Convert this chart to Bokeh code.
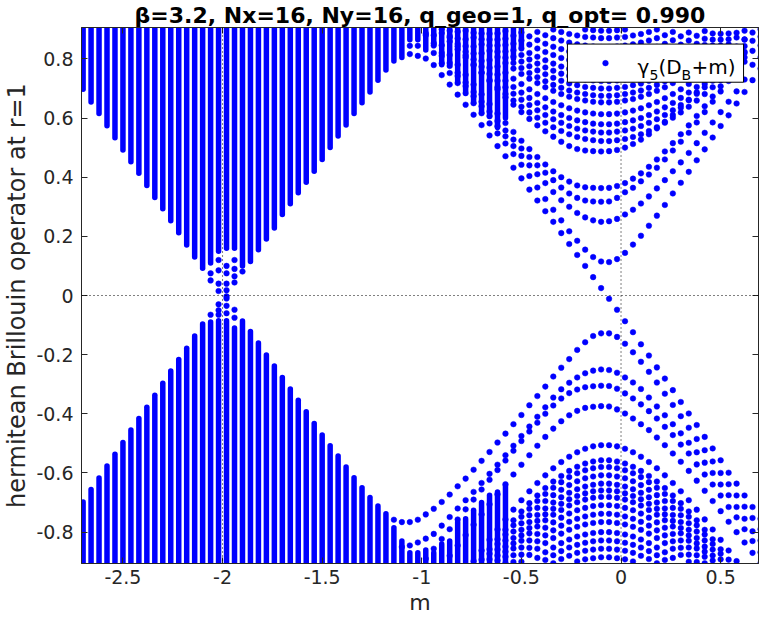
from bokeh.plotting import figure
from bokeh.models import (ColumnDataSource, Range1d, FixedTicker, LinearAxis,
                          Span, Label, BoxAnnotation)
from bokeh.embed import file_html
from bokeh.resources import INLINE

# ---------------- data ----------------
M = [-2.70, -2.66, -2.62, -2.58, -2.54, -2.50, -2.46, -2.42, -2.38, -2.34,
     -2.30, -2.26, -2.22, -2.18, -2.14, -2.10, -2.06, -2.02, -1.98, -1.94,
     -1.90, -1.86, -1.82, -1.78, -1.74, -1.70, -1.66, -1.62, -1.58, -1.54,
     -1.50, -1.46, -1.42, -1.38, -1.34, -1.30, -1.26, -1.22, -1.18, -1.14,
     -1.10, -1.06, -1.02, -0.98, -0.94, -0.90, -0.86, -0.82, -0.78, -0.74,
     -0.70, -0.66, -0.62, -0.58, -0.54, -0.50, -0.46, -0.42, -0.38, -0.34,
     -0.30, -0.26, -0.22, -0.18, -0.14, -0.10, -0.06, -0.02, 0.02, 0.06,
     0.10, 0.14, 0.18, 0.22, 0.26, 0.30, 0.34, 0.38, 0.42, 0.46,
     0.50, 0.54, 0.58, 0.62, 0.66, 0.70]

# lowest eigenvalue of the dense upper band, per m column (band runs up past the top)
UP_SOLID_LO = [.697, .654, .615, .574, .533, .492, .452, .413, .372, .331,
               .293, .253, .212, .171, .130, .092, .11, .15, .16, .16,
               .10, .115, .155, .191, .228, .274, .31, .347, .383, .42,
               .46, .50, .539, .576, .615, .652, .688, .728, .762, .793,
               .805, .865, .865, .83, .85, .78, .782, .72, .692, .652,
               .618, .607, .568, .60, .80, .84]

# highest eigenvalue of the dense lower band, per m column (band runs down past the bottom)
LOW_SOLID_HI = [-.698, -.656, -.617, -.576, -.537, -.497, -.455, -.416, -.378, -.337,
                -.297, -.255, -.216, -.178, -.137, -.096, -.09, -.085, -.085, -.11,
                -.086, -.122, -.161, -.201, -.238, -.277, -.316, -.354, -.393, -.433,
                -.472, -.508, -.543, -.580, -.616, -.650, -.683, -.712, -.738, -.785,
                -.83, -.87, -.87, -.86, -.87, -.84, -.83, -.766, -.755, -.726,
                -.70, -.675, -.664, -.642]

# isolated eigenvalues near the gaps (column index, value)
EXTRA_K = [16, 16, 17, 17, 17, 17, 18, 18, 18, 18, 18, 19, 19, 19, 19, 20,
           41, 41, 42, 42, 44,
           16, 17, 17, 17, 18, 18, 18, 19, 19]
EXTRA_Y = [.075, .051, .12, .085, .04, .015, .10, .075, .04, .018, -.003, .12, .09, .065, .044, .081,
           .844, .816, .844, .81, .82,
           -.065, -.03, -.05, -.065, -.01, -.035, -.06, -.048, -.075]

# eigenvalue branches: first column index, values column by column
U1_K0 = 43
U1 = [.801, .779, .745, .713, .679, .645, .611, .576, .541, .505, .471, .432, .396, .358, .321,
      .285, .249, .211, .174, .137, .100, .062, .025, -.011, -.048, -.087, -.124, -.165, -.203,
      -.243, -.281, -.320, -.360, -.399, -.438, -.478, -.517, -.557, -.599, -.636, -.676, -.715, -.755]
U2_K0 = 45
U2 = [.785, .752, .718, .684, .65, .616, .582, .548, .514, .478, .442, .404, .365, .326, .29,
      .254, .217, .185, .155, .13, .115, .113, .123, .144, .172, .202, .236, .270, .306, .345,
      .381, .418, .457, .494, .534, .573, .609, .649, .688, .728, .767]
U3_K0 = 43
U3 = [.88, .845, .81, .776, .742, .708, .674, .64, .606, .572, .538, .505, .472, .44, .41, .38,
      .35, .322, .30, .279, .264, .254, .249, .251, .259, .274, .29, .311, .335, .362, .39, .42,
      .45, .482, .515, .55, .585, .62, .655, .69, .73, .78, .805]
U4_K0 = 43
U4 = [.886, .853, .82, .786, .753, .72, .688, .655, .622, .59, .558, .527, .497, .468, .44, .415,
      .39, .365, .345, .33, .321, .318, .317, .318, .33, .349, .364, .386, .409, .432, .46, .49,
      .52, .55, .585, .62, .655, .69, .725, .76, .79, .827, .845]
U5_K0 = 44
U5 = [.88, .846, .813, .78, .746, .713, .68, .647, .615, .583, .553, .523, .495, .468, .443, .42,
      .40, .385, .372, .366, .364, .363, .364, .37, .38, .395, .413, .435, .46, .487, .515, .545,
      .575, .607, .64, .673, .707, .742, .78, .82, .861, .875]
U6_K0 = 45
U6 = [.9, .872, .842, .812, .782, .753, .725, .697, .67, .645, .62, .597, .575, .555, .537, .52,
      .505, .495, .49, .488, .487, .488, .492, .50, .512, .527, .545, .565, .587, .61, .635, .66,
      .687, .715, .745, .775, .805, .835, .865, .889, .9]
U7_K0 = 45
U7 = [.887, .859, .832, .805, .778, .753, .728, .704, .681, .659, .638, .619, .601, .584, .569,
      .556, .545, .536, .529, .525, .522, .522, .525, .529, .536, .545, .556, .569, .584, .601,
      .619, .638, .659, .681, .704, .728, .753, .778, .805]
U8_K0 = 46
U8 = [.877, .850, .824, .798, .773, .749, .726, .704, .682, .662, .644, .626, .610, .596, .584,
      .573, .564, .558, .554, .551, .551, .554, .558, .564, .573, .584, .596, .610, .626, .644,
      .662, .682, .704, .726, .749, .773, .798, .824]
U9_K0 = 46
U9 = [.895, .869, .843, .818, .793, .770, .747, .726, .705, .686, .668, .651, .636, .622, .610,
      .600, .592, .586, .581, .579, .579, .581, .586, .592, .600, .610, .622, .636, .651, .668,
      .686, .705, .726, .747, .770, .793, .818, .843]
U10_K0 = 47
U10 = [.892, .866, .842, .819, .796, .774, .753, .733, .715, .697, .681, .667, .654, .643, .633,
       .625, .619, .615, .613, .613, .615, .619, .625, .633, .643, .654, .667, .681, .697, .715,
       .733, .753, .774, .796, .819, .842, .866]
U11_K0 = 48
U11 = [.895, .872, .849, .827, .806, .786, .767, .749, .733, .718, .704, .692, .681, .672, .664,
       .659, .655, .653, .653, .655, .659, .664, .672, .681, .692, .704, .718, .733, .749, .767,
       .786, .806, .827, .849, .872, .895]
U12_K0 = 49
U12 = [.888, .866, .845, .824, .804, .786, .769, .752, .738, .724, .712, .702, .693, .686, .681,
       .677, .675, .675, .677, .681, .686, .693, .702, .712, .724, .738, .752, .769, .786, .804,
       .824, .845, .866, .888]
U13_K0 = 50
U13 = [.886, .865, .845, .825, .807, .791, .775, .761, .748, .736, .726, .717, .711, .705, .702,
       .700, .700, .702, .705, .711, .717, .726, .736, .748, .761, .775, .791, .807, .825, .845,
       .865, .886]
U14_K0 = 51
U14 = [.885, .865, .847, .829, .813, .798, .784, .771, .760, .750, .742, .735, .730, .727, .725,
       .725, .727, .730, .735, .742, .750, .760, .771, .784, .798, .813, .829, .847, .865, .885]
U15_K0 = 52
U15 = [.886, .868, .851, .835, .820, .807, .795, .784, .774, .766, .760, .755, .752, .750,
       .750, .752, .755, .760, .766, .774, .784, .795, .807, .820, .835, .851, .868, .886]
U16_K0 = 53
U16 = [.894, .878, .862, .848, .835, .823, .813, .803, .796, .790, .785, .782, .780,
       .780, .782, .785, .790, .796, .803, .813, .823, .835, .848, .862, .878, .894]
U17_K0 = 55
U17 = [.889, .876, .863, .851, .841, .833, .825, .819, .815, .812, .810,
       .810, .812, .815, .819, .825, .833, .841, .851, .863, .876, .889]
U18_K0 = 57
U18 = [.891, .880, .870, .862, .855, .849, .845, .842, .840,
       .840, .842, .845, .849, .855, .862, .870, .880, .891]
U19_K0 = 59
U19 = [.899, .891, .884, .879, .874, .872, .870, .870, .872, .874, .879, .884, .891, .899]
U20_K0 = 63
U20 = [.899, .897, .895, .895, .897, .899]

L1_K0 = 39
L1 = [-.758, -.766, -.766, -.758, -.740, -.721, -.698, -.673, -.645, -.619, -.589, -.559, -.529,
      -.497, -.467, -.435, -.404, -.371, -.340, -.308, -.274, -.244, -.215, -.184, -.158, -.137,
      -.128, -.128, -.14, -.163, -.192, -.224, -.258, -.294, -.332, -.37, -.408, -.447, -.485,
      -.523, -.561, -.60, -.638, -.676, -.714, -.752, -.79]
L2_K0 = 40
L2 = [-.85, -.845, -.835, -.822, -.806, -.778, -.749, -.72, -.692, -.664, -.634, -.603, -.572,
      -.54, -.508, -.475, -.443, -.41, -.378, -.345, -.317, -.295, -.277, -.263, -.254, -.25,
      -.252, -.261, -.277, -.294, -.316, -.345, -.375, -.405, -.435, -.466, -.498, -.53, -.565,
      -.60, -.639, -.675, -.715, -.755, -.797, -.828]
L3_K0 = 43
L3 = [-.89, -.856, -.823, -.79, -.757, -.723, -.69, -.656, -.623, -.59, -.558, -.525, -.492,
      -.46, -.43, -.40, -.372, -.348, -.33, -.318, -.31, -.307, -.305, -.306, -.315, -.331, -.348,
      -.368, -.391, -.416, -.444, -.472, -.504, -.534, -.571, -.605, -.639, -.676, -.715, -.75,
      -.79, -.83, -.868]
L4_K0 = 46
L4 = [-.88, -.845, -.81, -.775, -.74, -.706, -.672, -.638, -.605, -.572, -.54, -.508, -.478,
      -.45, -.425, -.405, -.39, -.38, -.376, -.374, -.375, -.385, -.399, -.416, -.435, -.455,
      -.48, -.506, -.534, -.562, -.593, -.626, -.66, -.695, -.729, -.765, -.80, -.835, -.87, -.905]
L5_K0 = 49
L5 = [-.898, -.862, -.826, -.791, -.757, -.724, -.692, -.662, -.634, -.608, -.584, -.563, -.545,
      -.530, -.518, -.510, -.506, -.506, -.510, -.518, -.530, -.545, -.563, -.584, -.608, -.634,
      -.662, -.692, -.724, -.757, -.791, -.826, -.862, -.898]
L6_K0 = 50
L6 = [-.893, -.858, -.824, -.792, -.760, -.730, -.702, -.676, -.651, -.629, -.610, -.593, -.579,
      -.568, -.561, -.557, -.557, -.561, -.568, -.579, -.593, -.610, -.629, -.651, -.676, -.702,
      -.730, -.760, -.792, -.824, -.858, -.893]
L7_K0 = 51
L7 = [-.873, -.840, -.808, -.777, -.748, -.721, -.695, -.671, -.650, -.631, -.614, -.601, -.591,
      -.584, -.580, -.580, -.584, -.591, -.601, -.614, -.631, -.650, -.671, -.695, -.721, -.748,
      -.777, -.808, -.840, -.873]
L8_K0 = 51
L8 = [-.892, -.859, -.828, -.798, -.770, -.743, -.718, -.695, -.675, -.657, -.641, -.628, -.618,
      -.612, -.608, -.608, -.612, -.618, -.628, -.641, -.657, -.675, -.695, -.718, -.743, -.770,
      -.798, -.828, -.859, -.892]
L9_K0 = 52
L9 = [-.879, -.849, -.820, -.792, -.766, -.742, -.720, -.700, -.682, -.667, -.655, -.646, -.640,
      -.636, -.636, -.640, -.646, -.655, -.667, -.682, -.700, -.720, -.742, -.766, -.792, -.820,
      -.849, -.879]
L10_K0 = 52
L10 = [-.896, -.866, -.838, -.811, -.786, -.762, -.740, -.721, -.704, -.689, -.678, -.669, -.662,
       -.659, -.659, -.662, -.669, -.678, -.689, -.704, -.721, -.740, -.762, -.786, -.811, -.838,
       -.866, -.896]
L11_K0 = 53
L11 = [-.883, -.855, -.829, -.804, -.781, -.760, -.741, -.725, -.710, -.699, -.690, -.684, -.681,
       -.681, -.684, -.690, -.699, -.710, -.725, -.741, -.760, -.781, -.804, -.829, -.855, -.883]
L12_K0 = 53
L12 = [-.905, -.878, -.852, -.828, -.806, -.785, -.767, -.751, -.737, -.726, -.718, -.712, -.709,
       -.709, -.712, -.718, -.726, -.737, -.751, -.767, -.785, -.806, -.828, -.852, -.878, -.905]
L13_K0 = 54
L13 = [-.901, -.876, -.853, -.831, -.811, -.794, -.778, -.765, -.755, -.747, -.741, -.738,
       -.738, -.741, -.747, -.755, -.765, -.778, -.794, -.811, -.831, -.853, -.876, -.901]
L14_K0 = 55
L14 = [-.900, -.877, -.856, -.837, -.820, -.805, -.792, -.782, -.774, -.769, -.766,
       -.766, -.769, -.774, -.782, -.792, -.805, -.820, -.837, -.856, -.877, -.900]
L15_K0 = 57
L15 = [-.887, -.868, -.852, -.837, -.825, -.815, -.808, -.803, -.800,
       -.800, -.803, -.808, -.815, -.825, -.837, -.852, -.868, -.887]
L16_K0 = 58
L16 = [-.894, -.878, -.864, -.852, -.843, -.836, -.831, -.828,
       -.828, -.831, -.836, -.843, -.852, -.864, -.878, -.894]
L17_K0 = 59
L17 = [-.905, -.891, -.880, -.870, -.863, -.859, -.856, -.856, -.859, -.863, -.870, -.880, -.891, -.905]
L18_K0 = 62
L18 = [-.899, -.892, -.888, -.885, -.885, -.888, -.892, -.899]

X_TICKS = [-2.5, -2, -1.5, -1, -0.5, 0, 0.5]
X_LABELS = ["-2.5", "-2", "-1.5", "-1", "-0.5", "0", "0.5"]
Y_TICKS = [-0.8, -0.6, -0.4, -0.2, 0, 0.2, 0.4, 0.6, 0.8]
Y_LABELS = ["-0.8", "-0.6", "-0.4", "-0.2", "0", "0.2", "0.4", "0.6", "0.8"]

TITLE = "\u03b2=3.2, Nx=16, Ny=16, q_geo=1, q_opt= 0.990"
XLABEL = "m"
YLABEL = "hermitean Brillouin operator at r=1"

# ---------------- assemble ----------------
BLUE = "#0000ff"
INK = "#262626"
FONT = "DejaVu Sans"
XMIN, XMAX = -2.708, 0.69
YMIN, YMAX = -0.906, 0.906

branches = [(U1_K0, U1), (U2_K0, U2), (U3_K0, U3), (U4_K0, U4), (U5_K0, U5), (U6_K0, U6),
            (U7_K0, U7), (U8_K0, U8), (U9_K0, U9), (U10_K0, U10), (U11_K0, U11), (U12_K0, U12),
            (U13_K0, U13), (U14_K0, U14), (U15_K0, U15), (U16_K0, U16), (U17_K0, U17),
            (U18_K0, U18), (U19_K0, U19), (U20_K0, U20),
            (L1_K0, L1), (L2_K0, L2), (L3_K0, L3), (L4_K0, L4), (L5_K0, L5), (L6_K0, L6),
            (L7_K0, L7), (L8_K0, L8), (L9_K0, L9), (L10_K0, L10), (L11_K0, L11), (L12_K0, L12),
            (L13_K0, L13), (L14_K0, L14), (L15_K0, L15), (L16_K0, L16), (L17_K0, L17),
            (L18_K0, L18)]

px, py = [], []
for k0, vals in branches:
    for i, v in enumerate(vals):
        k = k0 + i
        if k < len(M):
            px.append(M[k])
            py.append(v)
for k, v in zip(EXTRA_K, EXTRA_Y):
    px.append(M[k])
    py.append(v)

sx, sy0, sy1 = [], [], []
for k, lo in enumerate(UP_SOLID_LO):
    sx.append(M[k]); sy0.append(lo); sy1.append(YMAX + 0.05)
for k, hi in enumerate(LOW_SOLID_HI):
    sx.append(M[k]); sy0.append(YMIN - 0.05); sy1.append(hi)

p = figure(width=760, height=643, output_backend="svg", toolbar_location=None,
           x_range=Range1d(XMIN, XMAX), y_range=Range1d(YMIN, YMAX),
           min_border_left=73, min_border_right=2, min_border_top=20, min_border_bottom=80)
p.background_fill_color = "white"
p.border_fill_color = "white"
p.outline_line_color = INK
p.xgrid.visible = False
p.ygrid.visible = False

p.segment(x0="x", y0="y0", x1="x", y1="y1",
          source=ColumnDataSource(dict(x=sx, y0=sy0, y1=sy1)),
          line_color=BLUE, line_width=5.5, line_cap="round")
p.scatter(x="x", y="y", source=ColumnDataSource(dict(x=px, y=py)),
          marker="circle", size=5.6, fill_color=BLUE, line_color=BLUE, line_width=0.5)

for loc, dim in [(0, "width"), (0, "height"), (-2, "height")]:
    p.add_layout(Span(location=loc, dimension=dim, line_color="black",
                      line_dash="1 3", line_width=1))

# axes
def style_axis(ax):
    ax.axis_line_color = INK
    ax.major_tick_line_color = INK
    ax.major_tick_in = 6
    ax.major_tick_out = 0
    ax.minor_tick_line_color = None
    ax.major_label_text_font = FONT
    ax.major_label_text_font_size = "19px"
    ax.major_label_text_color = INK
    ax.axis_label_text_font = FONT
    ax.axis_label_text_font_size = "22px"
    ax.axis_label_text_font_style = "normal"
    ax.axis_label_text_color = INK

xa = p.xaxis[0]
ya = p.yaxis[0]
style_axis(xa)
style_axis(ya)
xa.ticker = FixedTicker(ticks=X_TICKS)
xa.major_label_overrides = {t: s for t, s in zip(X_TICKS, X_LABELS)}
ya.ticker = FixedTicker(ticks=Y_TICKS)
ya.major_label_overrides = {t: s for t, s in zip(Y_TICKS, Y_LABELS)}
xa.axis_label = XLABEL
ya.axis_label = YLABEL
ya.axis_label_text_font_size = "24px"
xa.major_label_standoff = 6
xa.axis_label_standoff = 3
ya.major_label_standoff = 8
ya.axis_label_standoff = 2

# box ticks on the top and right sides (no labels)
for side, ticks in [("right", Y_TICKS), ("above", X_TICKS)]:
    ax = LinearAxis(ticker=FixedTicker(ticks=ticks))
    style_axis(ax)
    ax.major_label_text_font_size = "1px"
    ax.major_label_text_color = None
    ax.major_label_standoff = 0
    p.add_layout(ax, side)

p.title.text = TITLE
p.title.align = "center"
p.title.text_font = FONT
p.title.text_font_style = "bold"
p.title.text_font_size = "22px"
p.title.text_color = "black"
p.title.standoff = 0

# legend: white box, a sample marker and the label with its subscripts
LEG_LEFT, LEG_RIGHT, LEG_BOTTOM, LEG_TOP = -0.269, 0.615, 0.721, 0.850
p.add_layout(BoxAnnotation(left=LEG_LEFT, right=LEG_RIGHT, bottom=LEG_BOTTOM, top=LEG_TOP,
                           fill_color="white", fill_alpha=1.0, line_color="black",
                           line_width=1, line_alpha=1.0))
p.scatter(x=[LEG_LEFT + 0.191], y=[(LEG_BOTTOM + LEG_TOP) / 2], marker="circle", size=5.6,
          fill_color=BLUE, line_color=BLUE, line_width=0.5, level="overlay")
for txt, x, y, size in [("\u03b3", 0.083, 0.771, "20px"), ("5", 0.143, 0.745, "14px"),
                        ("(D", 0.188, 0.771, "20px"), ("B", 0.304, 0.745, "14px"),
                        ("+m)", 0.354, 0.771, "20px")]:
    p.add_layout(Label(x=x, y=y, text=txt, text_font=FONT, text_font_size=size,
                       text_color="black", text_baseline="alphabetic", text_align="left",
                       level="overlay"))

open("out.html", "w").write(file_html(p, INLINE))
